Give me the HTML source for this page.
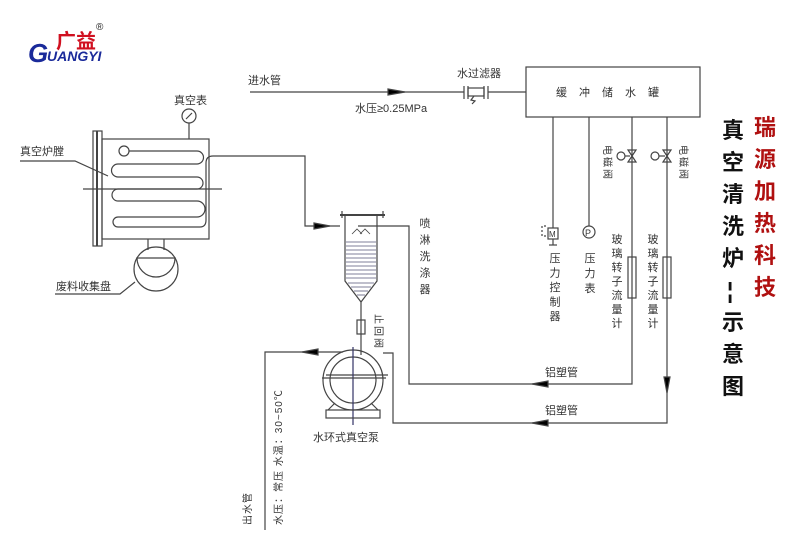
<!DOCTYPE html>
<html><head><meta charset="utf-8"><style>
body{margin:0;background:#fff}
svg{display:block}
text{font-family:"Liberation Sans","Noto Sans CJK SC",sans-serif;fill:#333}
</style></head><body>
<svg width="788" height="540" viewBox="0 0 788 540" xmlns="http://www.w3.org/2000/svg">
<text x="56" y="48" font-size="20" font-weight="bold" style="fill:#d01020">广益</text>
<text x="96" y="30" font-size="10" style="fill:#222">®</text>
<text x="28" y="62" font-size="26" font-weight="bold" font-style="italic" style="fill:#1a2a9a">G</text>
<text x="47" y="61" font-size="14" font-weight="bold" font-style="italic" style="fill:#1a2a9a">UANGYI</text>

<g fill="none" stroke="#444" stroke-width="1.2">
<line x1="250" y1="92" x2="464" y2="92"/>
<path d="M388,89 L405,92 L388,95z" fill="#000"/>
<line x1="464" y1="86" x2="464" y2="99"/><line x1="468" y1="86" x2="468" y2="99"/>
<rect x="468" y="88" width="16" height="8"/>
<line x1="484" y1="86" x2="484" y2="99"/><line x1="488" y1="86" x2="488" y2="99"/>
<path d="M474,96 l-3,4 l4,1 l-3,3"/>
<line x1="488" y1="92" x2="526" y2="92"/>
<rect x="526" y="67" width="174" height="50"/>
<circle cx="189" cy="116" r="7"/><line x1="186" y1="119" x2="192" y2="113"/>
<line x1="189" y1="123" x2="189" y2="139"/>
<rect x="102" y="139" width="107" height="100"/>
<rect x="93" y="131" width="9" height="115"/>
<line x1="97" y1="131" x2="97" y2="246" stroke-width="2"/>
<line x1="83" y1="189" x2="222" y2="189"/>
<circle cx="124" cy="151" r="5"/>
<path d="M129,151 H197 A6.5,6.5 0 0 1 197,164 H118 A6.5,6.5 0 0 0 118,177 H197 A6,6 0 0 1 197,189 H118 A6,6 0 0 0 118,201 H197 A8,8 0 0 1 197,217 H118 A5,5 0 0 0 118,227 H200 Q206,227 206,220 V163 Q206,156 213,156 H305 V226 H340"/>
<path d="M314,223 L330,226 L314,229z" fill="#000"/>
<path d="M20,161 H75 L108,176"/>
<line x1="148" y1="239" x2="148" y2="250"/><line x1="164" y1="239" x2="164" y2="250"/>
<circle cx="156" cy="269" r="22"/>
<path d="M137,258 H175 A19,19 0 0 1 137,258z"/>
<path d="M55,294 H120 L135,282"/>
<line x1="340" y1="215" x2="385" y2="215" stroke-width="2"/>
<line x1="342" y1="211" x2="342" y2="218"/><line x1="383" y1="211" x2="383" y2="218"/>
<path d="M345,215 V281 L361,302 L377,281 V215"/>
<g stroke="#557" stroke-width="0.8">
<line x1="346" y1="242" x2="376" y2="242"/><line x1="346" y1="246" x2="376" y2="246"/><line x1="346" y1="250" x2="376" y2="250"/><line x1="346" y1="254" x2="376" y2="254"/><line x1="346" y1="258" x2="376" y2="258"/><line x1="346" y1="262" x2="376" y2="262"/><line x1="346" y1="266" x2="376" y2="266"/><line x1="346" y1="270" x2="376" y2="270"/><line x1="346" y1="274" x2="376" y2="274"/><line x1="346" y1="278" x2="376" y2="278"/><line x1="348" y1="283" x2="374" y2="283"/><line x1="351" y1="287" x2="371" y2="287"/><line x1="354" y1="291" x2="368" y2="291"/><line x1="357" y1="295" x2="365" y2="295"/>
</g>
<path d="M352,234 l5,-5 l5,5 M360,234 l5,-5 l5,5" stroke-width="0.8"/>
<path d="M358,226 H409 V384 H632 V117"/>
<path d="M548,381 L532,384 L548,387z" fill="#000"/>
<line x1="361" y1="302" x2="361" y2="355"/>
<rect x="357" y="320" width="8" height="14"/>
<circle cx="353" cy="380" r="30"/><circle cx="353" cy="380" r="23"/>
<line x1="326" y1="375" x2="388" y2="375"/><line x1="353" y1="347" x2="353" y2="425" stroke="#336"/>
<line x1="322" y1="378" x2="386" y2="378"/>
<path d="M335,403 L328,410 M371,403 L378,410"/>
<rect x="326" y="410" width="54" height="8"/>
<path d="M343,352 H265 V530"/>
<path d="M318,349 L302,352 L318,355z" fill="#000"/>
<path d="M383,353 H393 V423 H667 V117"/>
<path d="M548,420 L532,423 L548,426z" fill="#000"/>
<path d="M664,377 L667,393 L670,377z" fill="#000"/>
<line x1="553" y1="117" x2="553" y2="228"/>
<rect x="548" y="228" width="10" height="11"/>
<path d="M546,226 H542 V236 M546,236 h-3" stroke-dasharray="2,2"/>
<line x1="553" y1="239" x2="553" y2="245"/><line x1="549" y1="245" x2="557" y2="245"/>
<line x1="589" y1="117" x2="589" y2="226"/>
<circle cx="589" cy="232" r="6"/>
<path d="M628,150 L636,150 L628,162 L636,162z"/>
<circle cx="621" cy="156" r="4"/><line x1="625" y1="156" x2="630" y2="156"/>
<rect x="628" y="257" width="8" height="41"/>
<path d="M663,150 L671,150 L663,162 L671,162z"/>
<circle cx="655" cy="156" r="4"/><line x1="659" y1="156" x2="665" y2="156"/>
<rect x="663" y="257" width="8" height="41"/>
</g>
<g font-size="11">
<text x="248" y="84">进水管</text>
<text x="457" y="77">水过滤器</text>
<text x="355" y="112">水压≥0.25MPa</text>
<text x="556" y="96" letter-spacing="12">缓冲储水罐</text>
<text x="174" y="104">真空表</text>
<text x="20" y="155">真空炉膛</text>
<text x="56" y="290">废料收集盘</text>
<text x="313" y="441">水环式真空泵</text>
<text x="545" y="376">铝塑管</text>
<text x="545" y="414">铝塑管</text>
</g>
<g font-size="11" text-anchor="middle">
<text x="425" y="227"><tspan x="425">喷</tspan><tspan x="425" dy="16.5">淋</tspan><tspan x="425" dy="16.5">洗</tspan><tspan x="425" dy="16.5">涤</tspan><tspan x="425" dy="16.5">器</tspan></text>
<text x="555" y="262"><tspan x="555">压</tspan><tspan x="555" dy="14.5">力</tspan><tspan x="555" dy="14.5">控</tspan><tspan x="555" dy="14.5">制</tspan><tspan x="555" dy="14.5">器</tspan></text>
<text x="590" y="262"><tspan x="590">压</tspan><tspan x="590" dy="15">力</tspan><tspan x="590" dy="15">表</tspan></text>
<text x="617" y="243"><tspan x="617">玻</tspan><tspan x="617" dy="14">璃</tspan><tspan x="617" dy="14">转</tspan><tspan x="617" dy="14">子</tspan><tspan x="617" dy="14">流</tspan><tspan x="617" dy="14">量</tspan><tspan x="617" dy="14">计</tspan></text>
<text x="653" y="243"><tspan x="653">玻</tspan><tspan x="653" dy="14">璃</tspan><tspan x="653" dy="14">转</tspan><tspan x="653" dy="14">子</tspan><tspan x="653" dy="14">流</tspan><tspan x="653" dy="14">量</tspan><tspan x="653" dy="14">计</tspan></text>
</g>
<g font-size="10">
<text transform="translate(604,145) rotate(90)" letter-spacing="2">电磁阀</text>
<text transform="translate(680,145) rotate(90)" letter-spacing="2">电磁阀</text>
<text transform="translate(375,314) rotate(90)" letter-spacing="2">止回阀</text>
<text transform="translate(251,525) rotate(-90)" letter-spacing="1">出水管</text>
<text transform="translate(282,525) rotate(-90)" letter-spacing="1">水压：常压   水温：30~50℃</text>
</g>
<g font-size="22" font-weight="bold">
<text x="722" y="138" style="fill:#111">真</text>
<text x="722" y="170" style="fill:#111">空</text>
<text x="722" y="202" style="fill:#111">清</text>
<text x="722" y="234" style="fill:#111">洗</text>
<text x="722" y="266" style="fill:#111">炉</text>
<text x="727" y="298" style="fill:#111">¦</text>
<text x="722" y="330" style="fill:#111">示</text>
<text x="722" y="362" style="fill:#111">意</text>
<text x="722" y="394" style="fill:#111">图</text>
<text x="754" y="135" style="fill:#b01010">瑞</text>
<text x="754" y="167" style="fill:#b01010">源</text>
<text x="754" y="199" style="fill:#b01010">加</text>
<text x="754" y="231" style="fill:#b01010">热</text>
<text x="754" y="263" style="fill:#b01010">科</text>
<text x="754" y="295" style="fill:#b01010">技</text>
</g>
<text x="585" y="236" font-size="9">P</text>
<text x="549" y="237" font-size="8">M</text>
</svg>
</body></html>
